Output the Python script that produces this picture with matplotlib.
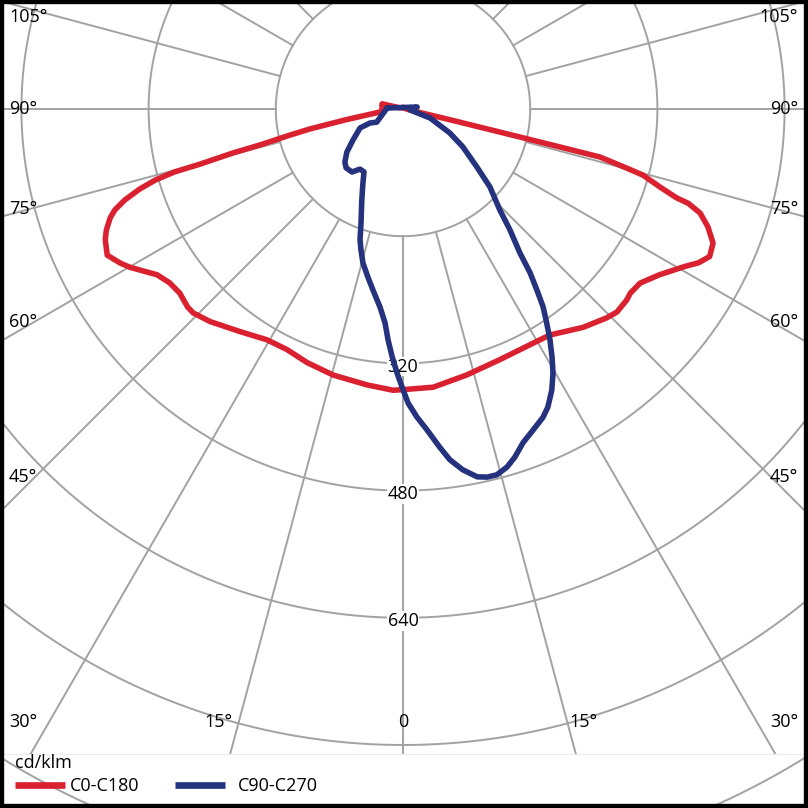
import numpy as np
import matplotlib.pyplot as plt
from matplotlib.patches import Rectangle
from matplotlib.lines import Line2D

plt.rcParams['font.family'] = ['Open Sans', 'DejaVu Sans']

# luminous intensity, cd/klm
# C0-C180 plane (C0 to the right, C180 to the left)
c0_gamma = [0, 6.2, 13.5, 21.1, 29.1, 33.0, 39.5, 44.3, 46.5, 49.5, 51.0, 53.7,
            57.1, 60.8, 62.5, 64.3, 66.6, 68.9, 70.7, 71.7, 72.0, 73.1, 74.6,
            75.2, 76.3, 76.4, 76.6, 77.1, 78, 85, 100, 140, 180]
c0_vals = [353, 352, 344, 338, 337, 339, 356, 367, 371, 370, 368, 370,
           384, 406, 419, 428, 425, 411, 396, 378, 362, 338, 313,
           291, 255, 203, 125, 61, 25, 6, 3, 2, 2]
c180_gamma = [0, 2.0, 7.4, 14.7, 20.7, 25.7, 30.5, 36.2, 42.2, 45.8, 47.4,
              50.5, 53.3, 56.0, 59.9, 61.4, 63.7, 66.3, 67.8, 69.6, 70.7, 71.9,
              73.1, 74.0, 74.6, 74.8, 75.5, 75.9, 77.0, 77.9, 79.3, 82.6, 90,
              100, 104, 110, 140, 180]
c180_vals = [353, 354, 350, 346, 341, 336, 337, 347, 361, 368, 368,
             364, 366, 373, 397, 405, 415, 409, 403, 393, 384, 368,
             346, 324, 298, 265, 221, 185, 146, 120, 74, 29, 26,
             27, 27, 4, 2, 2]

# C90-C270 plane (C90 to the right, C270 to the left)
c90_gamma = [0, 1.0, 2.6, 4.3, 6.2, 7.6, 9.4, 11.4, 12.9, 14.4, 16.2, 17.8,
             19.8, 22.0, 24.4, 25.9, 27.9, 29.6, 31.0, 32.5, 33.9, 35.3, 36.5,
             37.8, 39.1, 41.5, 43.8, 48.1, 51.9, 57.7, 62.9, 71.6, 82, 98]
c90_vals = [353, 370, 388, 405, 428, 445, 460, 472, 475, 475, 469, 460,
            446, 436, 426, 417, 400, 382, 364, 344, 324, 305, 283,
            261, 233, 203, 176, 147, 118, 89, 66, 36, 9, 18]
c270_gamma = [0, 1.3, 2.5, 3.7, 4.8, 6.6, 9.4, 11.8, 14.6, 16.6, 18.2, 20.2,
              24.3, 28.4, 31.8, 35.6, 39.0, 44.0, 47.6, 52.5, 58.2, 66.2, 67.0,
              63.4, 93.6]
c270_vals = [353, 332, 312, 291, 270, 251, 231, 216, 200, 185, 173, 153,
             126, 106, 93, 93, 102, 103, 99, 89, 74, 59, 45,
             37, 20]

rings = [160, 320, 480, 640, 800, 960, 1120]
ring_labels = [320, 480, 640]
spokes = np.arange(0, 360, 15)

red = '#da2130'
blue = '#25327d'
grid_col = '#a2a2a2'

W = 808
cx, cy = 403, 109          # pole position in pixels (from top left)
px_per_unit = 0.795
r_max = 1200
rad_px = r_max * px_per_unit

fig = plt.figure(figsize=(8.08, 8.08), dpi=100)
ax = fig.add_axes([(cx - rad_px) / W, (W - cy - rad_px) / W,
                   2 * rad_px / W, 2 * rad_px / W], projection='polar')
ax.set_theta_zero_location('S')
ax.set_theta_direction(1)
ax.set_ylim(0, r_max)
ax.set_xticks([])
ax.set_yticks([])
ax.grid(False)
ax.spines['polar'].set_visible(False)

# spokes start at the inner ring
for a in spokes:
    t = np.radians(a)
    ax.plot([t, t], [rings[0], r_max], color=grid_col, lw=1.4, zorder=1)

# legend strip hides the spokes (rings still show through)
strip = Rectangle((0, 0), 1, 54 / W, transform=fig.transFigure,
                  facecolor='white', edgecolor='#ececec', lw=0.8, zorder=1.5)
ax.add_artist(strip)

circ = np.linspace(0, 2 * np.pi, 1441)
for r in rings:
    ax.plot(circ, np.full_like(circ, r), color=grid_col, lw=1.4, zorder=2)

for r in ring_labels:
    ax.text(0, r + 4, str(r), ha='center', va='center', fontsize=13,
            zorder=2.5, bbox=dict(boxstyle='square,pad=0.05', fc='white', ec='none'))


def loop(g_left, v_left, g_right, v_right):
    th = np.concatenate([-np.radians(g_left[::-1]), np.radians(g_right)])
    rr = np.concatenate([v_left[::-1], v_right])
    return np.append(th, th[0]), np.append(rr, rr[0])


th, rr = loop(c180_gamma, c180_vals, c0_gamma, c0_vals)
ax.plot(th, rr, color=red, lw=4.0, solid_joinstyle='round', solid_capstyle='round', zorder=3)
th, rr = loop(c270_gamma, c270_vals, c90_gamma, c90_vals)
ax.plot(th, rr, color=blue, lw=4.0, solid_joinstyle='round', solid_capstyle='round', zorder=3.1)


def ftext(x, y, s, **kw):
    fig.text(x / W, 1 - y / W, s, fontsize=13, va='center', **kw)


side_labels = ['105°', '90°', '75°', '60°', '45°', '30°']
side_y = [17, 109, 209, 322, 477, 722]
for s, y in zip(side_labels, side_y):
    ftext(9, y, s, ha='left')
    ftext(798, y, s, ha='right')
ftext(218, 722, '15°', ha='center')
ftext(583, 722, '15°', ha='center')
ftext(403, 722, '0', ha='center')

# legend
ftext(15, 763, 'cd/klm', ha='left')
fig.add_artist(Line2D([15 / W, 65 / W], [1 - 785 / W] * 2, color=red, lw=4.8,
                      solid_capstyle='butt'))
ftext(70, 786, 'C0-C180', ha='left')
fig.add_artist(Line2D([175 / W, 225 / W], [1 - 785 / W] * 2, color=blue, lw=4.8,
                      solid_capstyle='butt'))
ftext(238, 786, 'C90-C270', ha='left')

fig.add_artist(Rectangle((0, 0), 1, 1, transform=fig.transFigure, fill=False,
                         edgecolor='black', lw=6, zorder=10))

fig.savefig('out.png', dpi=100, facecolor='white')
